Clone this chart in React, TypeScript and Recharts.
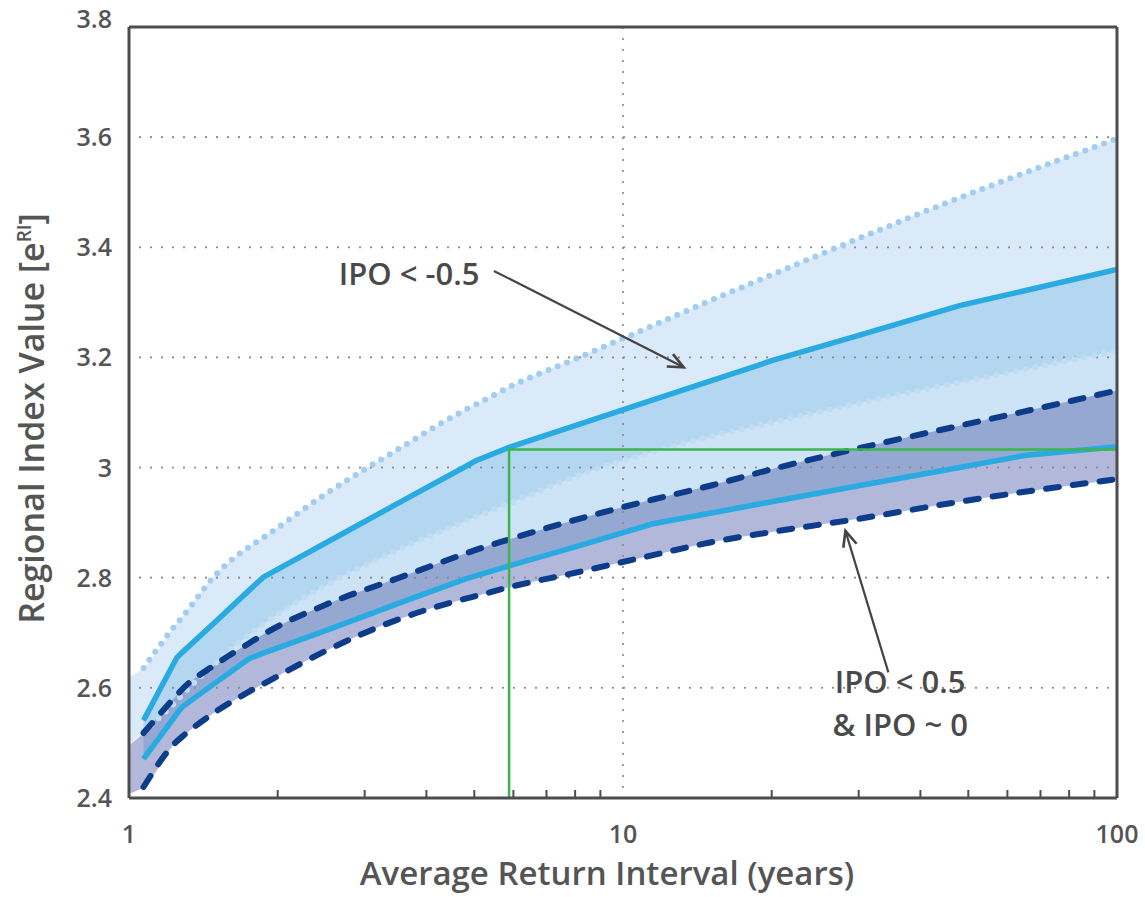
import React from "react";
import { ComposedChart, Area, Line, XAxis, YAxis, ReferenceLine, ReferenceDot, Label } from "recharts";

// return interval (years) where the curves were read
const returnYears = [1, 1.07, 1.25, 1.28, 1.5, 1.75, 1.87, 2.5, 3.5, 4.8, 5.05, 5.9, 8, 11.5, 15, 20, 30, 48, 65, 100];

// IPO < -0.5 : dotted bounds + solid median
const negUpper = [2.62, 2.636, 2.717, 2.728, 2.806, 2.856, 2.873, 2.952, 3.033, 3.105, 3.115, 3.147, 3.197, 3.258, 3.303, 3.35, 3.416, 3.49, 3.535, 3.597];
const negMedian = [null, 2.541, 2.655, 2.664, 2.721, 2.777, 2.801, 2.863, 2.935, 3.002, 3.013, 3.037, 3.076, 3.123, 3.157, 3.194, 3.24, 3.294, 3.321, 3.36];
const negLower = [2.495, 2.521, 2.577, 2.587, 2.646, 2.697, 2.716, 2.786, 2.85, 2.903, 2.911, 2.935, 2.984, 3.029, 3.056, 3.082, 3.117, 3.155, 3.178, 3.212];

// IPO < 0.5 & IPO ~ 0 : dashed bounds + solid median
const posUpper = [2.495, 2.518, 2.587, 2.597, 2.643, 2.681, 2.697, 2.751, 2.799, 2.844, 2.851, 2.87, 2.905, 2.942, 2.967, 2.997, 3.035, 3.076, 3.102, 3.14];
const posMedian = [null, 2.471, 2.553, 2.565, 2.61, 2.653, 2.663, 2.704, 2.753, 2.798, 2.804, 2.822, 2.856, 2.898, 2.917, 2.938, 2.967, 3.0, 3.022, 3.038];
const posLower = [2.408, 2.42, 2.503, 2.511, 2.557, 2.593, 2.607, 2.667, 2.724, 2.762, 2.767, 2.783, 2.809, 2.841, 2.864, 2.883, 2.907, 2.938, 2.956, 2.979];

const xMajorTicks = [1, 10, 100];
const xMinorTicks = [2, 3, 4, 5, 6, 7, 8, 9, 20, 30, 40, 50, 60, 70, 80, 90];
const yTicks = [2.4, 2.6, 2.8, 3, 3.2, 3.4, 3.6, 3.8];
const yGrid = [2.6, 2.8, 3, 3.2, 3.4, 3.6];
const yMinorTicks = [2.45, 2.5, 2.55, 2.65, 2.7, 2.75, 2.85, 2.9, 2.95, 3.05, 3.1, 3.15, 3.25, 3.3, 3.35, 3.45, 3.5, 3.55, 3.65, 3.7, 3.75];

// green read-off lines
const designYears = 5.88;
const designValue = 3.033;

// annotations: [x, y] in data units
const negLabelAt = [3.69, 3.351];
const negArrow = [[5.48, 3.357], [13.27, 3.182]];
const posLabelAt = [36.4, 2.577];
const posArrow = [[34.45, 2.628], [28.2, 2.885]];

const rows = returnYears.map((x, i) => ({
  x,
  first: i === 0,
  negUpper: negUpper[i],
  negMedian: negMedian[i],
  negLower: negLower[i],
  posUpper: posUpper[i],
  posMedian: posMedian[i],
  posLower: posLower[i],
}));

const FONT = "'Open Sans', 'Noto Sans', sans-serif";
const AXIS = "#4d4d4d";
const TEXT = "#555";

const edge = (key: string) => (r: any) => (r.first ? null : r[key]);

function BottomTick(p: any) {
  const v = p.payload.value;
  if (xMajorTicks.includes(v)) {
    return (
      <text x={p.x} y={p.y} dy="0.71em" textAnchor="middle" fontFamily={FONT} fontWeight={600} fontSize={25} fill={TEXT}>
        {v}
      </text>
    );
  }
  const axisY = p.y - 27;
  return <line x1={p.x} x2={p.x} y1={axisY} y2={axisY - 8} stroke={AXIS} strokeWidth={2} />;
}

function LeftTick(p: any) {
  const v = p.payload.value;
  const shift = v === 3.8 ? -8 : 0;
  return (
    <text x={p.x} y={p.y + shift} dy="0.36em" textAnchor="end" fontFamily={FONT} fontWeight={600} fontSize={25} fill={TEXT}>
      {String(Number(v.toFixed(1)))}
    </text>
  );
}

function YTitle(p: any) {
  const vb = p.viewBox || { x: 0, y: 27, width: 129, height: 771 };
  const cx = 32;
  const cy = vb.y + vb.height / 2 + 6;
  return (
    <text x={cx} y={cy} dy="0.35em" transform={`rotate(-90, ${cx}, ${cy})`} textAnchor="middle" fontFamily={FONT} fontWeight={600} fontSize={34} fill={TEXT}>
      <tspan>Regional Index Value [e</tspan>
      <tspan fontSize={19} dy={-13}>RI</tspan>
      <tspan dy={13}>]</tspan>
    </text>
  );
}

function XTitle(p: any) {
  const vb = p.viewBox || { x: 129, y: 798, width: 988, height: 99 };
  return (
    <text x={vb.x + vb.width / 2 - 16} y={vb.y + 75} dy="0.35em" textAnchor="middle" fontFamily={FONT} fontWeight={600} fontSize={33} fill={TEXT}>
      Average Return Interval (years)
    </text>
  );
}

function Arrow(p: any) {
  const { x1, y1, x2, y2 } = p;
  const a = Math.atan2(y2 - y1, x2 - x1);
  const h = 17;
  const s = 0.42;
  const pts = `${x2 - h * Math.cos(a - s)},${y2 - h * Math.sin(a - s)} ${x2},${y2} ${x2 - h * Math.cos(a + s)},${y2 - h * Math.sin(a + s)}`;
  return (
    <g>
      <line x1={x1} y1={y1} x2={x2} y2={y2} stroke="#444" strokeWidth={2.2} />
      <polyline points={pts} fill="none" stroke="#444" strokeWidth={2.6} />
    </g>
  );
}

function Note(lines: string[]) {
  return (p: any) => {
    const vb = p.viewBox || { x: 0, y: 0 };
    const x = vb.x + (vb.width || 0) / 2;
    const y = vb.y + (vb.height || 0) / 2;
    return (
      <text x={x} y={y} textAnchor="middle" fontFamily={FONT} fontWeight={600} fontSize={31} fill="#4a4a4a">
        {lines.map((t, i) => (
          <tspan key={i} x={x} dy={i === 0 ? (lines.length > 1 ? "-0.25em" : "0.36em") : "1.4em"}>
            {t}
          </tspan>
        ))}
      </text>
    );
  };
}

export default function App() {
  return (
    <div style={{ position: "absolute", left: 0, top: 0, width: 1145, height: 897, background: "#fff" }}>
      <ComposedChart width={1145} height={897} data={rows} margin={{ top: 26, right: 27, bottom: 0, left: 0 }}>
        <XAxis
          dataKey="x"
          type="number"
          scale="log"
          domain={[1, 100]}
          allowDataOverflow
          ticks={[...xMajorTicks, ...xMinorTicks].sort((a, b) => a - b)}
          interval={0}
          tickLine={false}
          tickSize={0}
          tickMargin={27}
          height={99}
          tick={BottomTick}
          axisLine={{ stroke: AXIS, strokeWidth: 3 }}
          label={<Label content={XTitle} />}
        />
        <XAxis
          xAxisId="top"
          orientation="top"
          type="number"
          scale="log"
          domain={[1, 100]}
          allowDataOverflow
          ticks={xMinorTicks}
          interval={0}
          tick={false}
          tickSize={-8}
          tickLine={{ stroke: AXIS, strokeWidth: 2 }}
          height={1}
          axisLine={{ stroke: AXIS, strokeWidth: 3 }}
        />
        <YAxis
          type="number"
          domain={[2.4, 3.8]}
          allowDataOverflow
          ticks={yTicks}
          interval={0}
          width={129}
          tickLine={false}
          tickSize={0}
          tickMargin={17}
          tick={LeftTick}
          axisLine={{ stroke: AXIS, strokeWidth: 3 }}
          label={<Label content={YTitle} />}
        />
        <YAxis
          yAxisId="right"
          orientation="right"
          type="number"
          domain={[2.4, 3.8]}
          allowDataOverflow
          ticks={yMinorTicks}
          interval={0}
          width={1}
          tick={false}
          tickSize={-8}
          tickLine={{ stroke: AXIS, strokeWidth: 2 }}
          axisLine={{ stroke: AXIS, strokeWidth: 3 }}
        />

        {/* bands, painted opaque so overlaps get their own shade */}
        <Area type="monotone" dataKey={(r: any) => [r.negLower, r.negUpper]} stroke="none" fill="#dbeaf8" fillOpacity={1} isAnimationActive={false} activeDot={false} />
        <Area type="monotone" dataKey={(r: any) => (r.negMedian == null ? null : [r.posMedian, r.negMedian])} stroke="none" fill="#cde3f6" fillOpacity={1} isAnimationActive={false} activeDot={false} />
        <Area type="monotone" dataKey={(r: any) => (r.negMedian == null ? null : [r.negLower, r.negMedian])} stroke="none" fill="#b3d7f1" fillOpacity={1} isAnimationActive={false} activeDot={false} />
        <Area type="monotone" dataKey={(r: any) => [r.posLower, r.posUpper]} stroke="none" fill="#b1b8d9" fillOpacity={1} isAnimationActive={false} activeDot={false} />
        <Area type="monotone" dataKey={(r: any) => (r.posMedian == null ? null : [r.posMedian, r.posUpper])} stroke="none" fill="#94a8d2" fillOpacity={1} isAnimationActive={false} activeDot={false} />

        {yGrid.map((v) => (
          <ReferenceLine key={v} y={v} stroke="#8a8a8a" strokeWidth={2.2} strokeDasharray="0 11" strokeLinecap="round" />
        ))}
        <ReferenceLine x={10} stroke="#8a8a8a" strokeWidth={2.2} strokeDasharray="0 11" strokeLinecap="round" />

        <Line type="monotone" dataKey={edge("negLower")} stroke="#c0ddf4" strokeWidth={6} strokeDasharray="0 10" strokeLinecap="round" dot={false} activeDot={false} isAnimationActive={false} />
        <Line type="monotone" dataKey={edge("negUpper")} stroke="#a3cdf0" strokeWidth={6} strokeDasharray="0 10" strokeLinecap="round" dot={false} activeDot={false} isAnimationActive={false} />
        <Line type="monotone" dataKey={edge("posUpper")} stroke="#0c3c8a" strokeWidth={6} strokeDasharray="13 14" strokeLinecap="round" dot={false} activeDot={false} isAnimationActive={false} />
        <Line type="monotone" dataKey={edge("posLower")} stroke="#0c3c8a" strokeWidth={6} strokeDasharray="13 14" strokeLinecap="round" dot={false} activeDot={false} isAnimationActive={false} />
        <Line type="linear" dataKey="posMedian" stroke="#29abe2" strokeWidth={5.5} dot={false} activeDot={false} isAnimationActive={false} />
        <Line type="linear" dataKey="negMedian" stroke="#29abe2" strokeWidth={5.5} dot={false} activeDot={false} isAnimationActive={false} />

        <ReferenceLine segment={[{ x: designYears, y: 2.4 }, { x: designYears, y: designValue }]} stroke="#3cb54a" strokeWidth={2.5} />
        <ReferenceLine segment={[{ x: designYears, y: designValue }, { x: 100, y: designValue }]} stroke="#3cb54a" strokeWidth={2.5} />

        <ReferenceLine segment={[{ x: negArrow[0][0], y: negArrow[0][1] }, { x: negArrow[1][0], y: negArrow[1][1] }]} shape={Arrow} />
        <ReferenceLine segment={[{ x: posArrow[0][0], y: posArrow[0][1] }, { x: posArrow[1][0], y: posArrow[1][1] }]} shape={Arrow} />

        <ReferenceDot x={negLabelAt[0]} y={negLabelAt[1]} r={0} stroke="none" fill="none">
          <Label content={Note(["IPO < -0.5"])} />
        </ReferenceDot>
        <ReferenceDot x={posLabelAt[0]} y={posLabelAt[1]} r={0} stroke="none" fill="none">
          <Label content={Note(["IPO < 0.5", "& IPO ~ 0"])} />
        </ReferenceDot>
      </ComposedChart>
    </div>
  );
}
